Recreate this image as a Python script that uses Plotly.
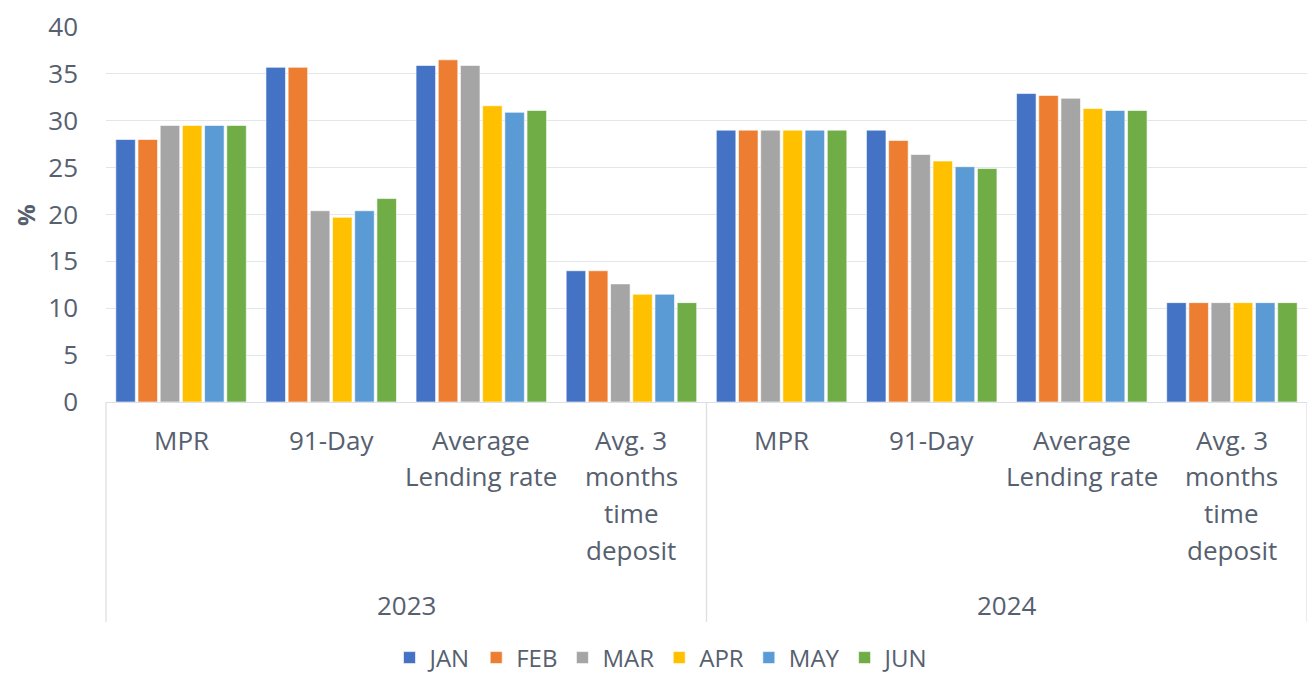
import plotly.graph_objects as go

years = ["2023", "2024"]
indicators = ["MPR", "91-Day", "Average\nLending rate", "Avg. 3\nmonths\ntime\ndeposit"]
months = ["JAN", "FEB", "MAR", "APR", "MAY", "JUN"]
colors = ["#4472C4", "#ED7D31", "#A5A5A5", "#FFC000", "#5B9BD5", "#70AD47"]

# values per month, ordered: 2023 MPR, 91-Day, Avg Lending, Avg 3m deposit, then 2024 same
jan = [28.0, 35.7, 35.9, 14.0, 29.0, 29.0, 32.9, 10.6]
feb = [28.0, 35.7, 36.5, 14.0, 29.0, 27.9, 32.7, 10.6]
mar = [29.5, 20.4, 35.9, 12.6, 29.0, 26.4, 32.4, 10.6]
apr = [29.5, 19.7, 31.6, 11.5, 29.0, 25.7, 31.3, 10.6]
may = [29.5, 20.4, 30.9, 11.5, 29.0, 25.1, 31.1, 10.6]
jun = [29.5, 21.7, 31.1, 10.6, 29.0, 24.9, 31.1, 10.6]
series = [jan, feb, mar, apr, may, jun]

FONT = "Open Sans"
TXT = "#56606f"
FS = 26

W, Hfig = 1307, 676
plot_left, plot_top, plot_bot = 106, 27, 402  # page pixel coordinates
H = plot_bot - plot_top
PW = W - plot_left

def py2paper(py):
    return (plot_bot - py) / H

def px2paper(px):
    return (px - plot_left) / PW

ncat = len(years) * len(indicators)
xpos = list(range(ncat))

fig = go.Figure()
for m, c, vals in zip(months, colors, series):
    fig.add_trace(go.Bar(
        x=xpos, y=vals, name=m,
        marker=dict(color=c, line=dict(color="rgba(255,255,255,0.6)", width=1)),
    ))

annotations = []
line_y0 = 440
line_step = 36.5
for yi, yr in enumerate(years):
    for ci, lab in enumerate(indicators):
        xi = yi * len(indicators) + ci
        for li, line in enumerate(lab.split("\n")):
            annotations.append(dict(
                x=xi, xref="x", y=py2paper(line_y0 + li * line_step), yref="paper",
                text=line, showarrow=False, xanchor="center", yanchor="middle",
                font=dict(family=FONT, size=FS, color=TXT)))
    annotations.append(dict(
        x=(yi + 0.5) / len(years), xref="paper", y=py2paper(605), yref="paper",
        text=yr, showarrow=False, xanchor="center", yanchor="middle",
        font=dict(family=FONT, size=FS, color=TXT)))

annotations.append(dict(
    x=px2paper(25), xref="paper", y=py2paper(215), yref="paper", text="<b>%</b>",
    textangle=-90, showarrow=False, xanchor="center", yanchor="middle",
    font=dict(family=FONT, size=FS - 2, color=TXT)))

shapes = []
for k in range(len(years) + 1):
    shapes.append(dict(type="line", xref="paper", yref="paper",
                       x0=k / len(years), x1=k / len(years),
                       y0=0, y1=py2paper(622),
                       line=dict(color="#dcdfe4", width=1.3)))

fig.update_layout(
    width=W, height=Hfig,
    margin=dict(l=plot_left, r=0, t=plot_top, b=Hfig - plot_bot, autoexpand=False),
    paper_bgcolor="white", plot_bgcolor="white",
    barmode="group", bargap=0.113, bargroupgap=0.12,
    font=dict(family=FONT, size=FS, color=TXT),
    xaxis=dict(range=[-0.5, ncat - 0.5], showticklabels=False, showgrid=False,
               zeroline=False, showline=True, linecolor="#dcdfe4", linewidth=1.3,
               ticks="", automargin=False),
    yaxis=dict(range=[0, 40], dtick=5, showgrid=True, gridcolor="#e3e6eb",
               gridwidth=1.3, zeroline=False, showline=False, ticks="",
               ticklabelstandoff=27, automargin=False,
               tickfont=dict(family=FONT, size=FS, color=TXT)),
    legend=dict(orientation="h", x=px2paper(662), xanchor="center", y=py2paper(658),
                yanchor="middle", font=dict(family=FONT, size=24, color=TXT),
                itemwidth=30, traceorder="normal", tracegroupgap=0),
    annotations=annotations,
    shapes=shapes,
    showlegend=True,
)

fig.write_html("out.html", config={"displayModeBar": False},
               post_script="document.body.style.margin='0';document.body.style.overflow='hidden';")
